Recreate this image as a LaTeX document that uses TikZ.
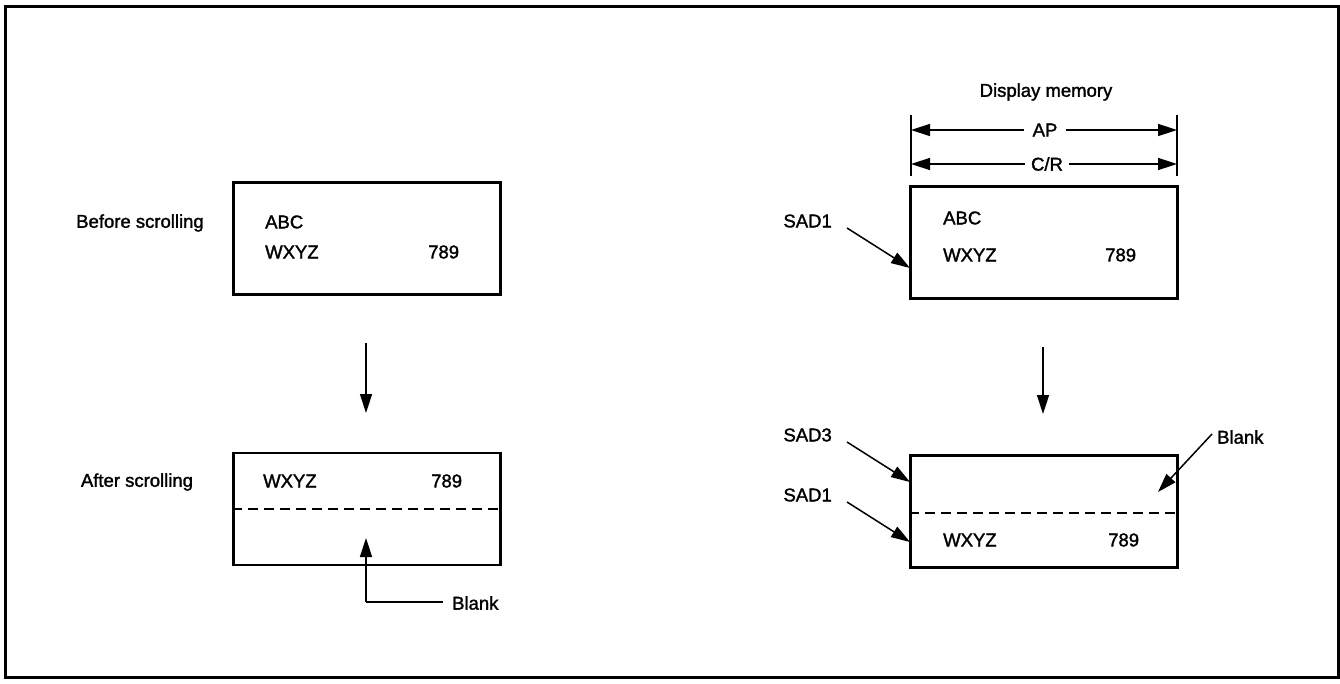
\documentclass[tikz,border=0pt]{standalone}
\usepackage{fontspec}
\setmainfont[FakeBold=1.6]{Liberation Sans}
\usetikzlibrary{arrows.meta}
\begin{document}
\begin{tikzpicture}[x=1pt,y=-1pt,
  lbl/.style={font=\fontsize{18.5}{22}\selectfont, inner sep=0pt},
  scr/.style={draw, line width=2.2pt, minimum width=267pt, minimum height=112pt, inner sep=0pt},
  arr/.style={line width=1.5pt, -{Triangle[length=19pt,width=12pt]}},
  ln/.style={line width=1.5pt},
  dsh/.style={line width=1.2pt, dash pattern=on 10pt off 6pt}]
\useasboundingbox (0,0) rectangle (1340,684);
\draw[line width=3pt] (5,7) rectangle (1338,677);

% ---------- left side ----------
\node[scr] (lt) at (367,238.5) {};
\node[lbl] (before) at (140,223) {Before scrolling};
\node[lbl, anchor=west] (ltabc) at (265,222) {ABC};
\node[lbl, anchor=west] (ltw) at (265,252) {WXYZ};
\node[lbl, anchor=west] (lt7) at (428,252) {789};

\coordinate (ld1) at (366,343);
\coordinate (ld2) at (366,413);
\draw[arr] (ld1) -- (ld2);

\node[scr] (lb) at (367,509) {};
\node[lbl] (after) at (137,482) {After scrolling};
\node[lbl, anchor=west] (lbw) at (263,481) {WXYZ};
\node[lbl, anchor=west] (lb7) at (431,481) {789};
\draw[dsh] (lb.west |- 0,509) -- (lb.east |- 0,509);

\node[lbl, anchor=west] (lblank) at (452,603) {Blank};
\coordinate (lcorner) at (366,602);
\coordinate (ltip) at (366,538);
\draw[arr] (lcorner) -- (ltip);
\draw[ln] (lcorner) -- (443,602);

% ---------- right side ----------
\node[lbl] (dm) at (1046,92) {Display memory};
\coordinate (vl1) at (911,115);
\coordinate (vl2) at (911,176);
\coordinate (vr1) at (1177,115);
\coordinate (vr2) at (1177,176);
\draw[ln] (vl1) -- (vl2);
\draw[ln] (vr1) -- (vr2);
\node[lbl, inner xsep=8pt] (ap) at (1045,130) {AP};
\node[lbl, inner xsep=6pt] (cr) at (1047,164) {C/R};
\draw[arr] (ap.west) -- (ap.west -| vl1);
\draw[arr] (ap.east) -- (ap.east -| vr1);
\draw[arr] (cr.west) -- (cr.west -| vl1);
\draw[arr] (cr.east) -- (cr.east -| vr1);

\node[scr] (rt) at (1044,242.5) {};
\node[lbl, anchor=west] (rtabc) at (943,218) {ABC};
\node[lbl, anchor=west] (rtw) at (943,255) {WXYZ};
\node[lbl, anchor=west] (rt7) at (1105,255) {789};
\node[lbl, anchor=east] (sad1a) at (832,221) {SAD1};
\coordinate (sad1as) at (847,228);
\coordinate (sad1at) at (910,268);
\draw[arr] (sad1as) -- (sad1at);

\coordinate (rd1) at (1043,347);
\coordinate (rd2) at (1043,414);
\draw[arr] (rd1) -- (rd2);

\node[scr] (rb) at (1044,511.5) {};
\draw[dsh] (rb.west |- 0,513) -- (rb.east |- 0,513);
\node[lbl, anchor=west] (rbw) at (943,540) {WXYZ};
\node[lbl, anchor=west] (rb7) at (1108,540) {789};
\node[lbl, anchor=east] (sad3) at (832,435) {SAD3};
\node[lbl, anchor=east] (sad1b) at (832,495) {SAD1};
\coordinate (sad3s) at (847,442);
\coordinate (sad3t) at (910,482);
\coordinate (sad1bs) at (847,502);
\coordinate (sad1bt) at (910,542);
\draw[arr] (sad3s) -- (sad3t);
\draw[arr] (sad1bs) -- (sad1bt);
\node[lbl, anchor=west] (rblank) at (1217,437) {Blank};
\coordinate (rbs) at (1212,434);
\coordinate (rbt) at (1158,492);
\draw[arr] (rbs) -- (rbt);
\end{tikzpicture}
\end{document}
